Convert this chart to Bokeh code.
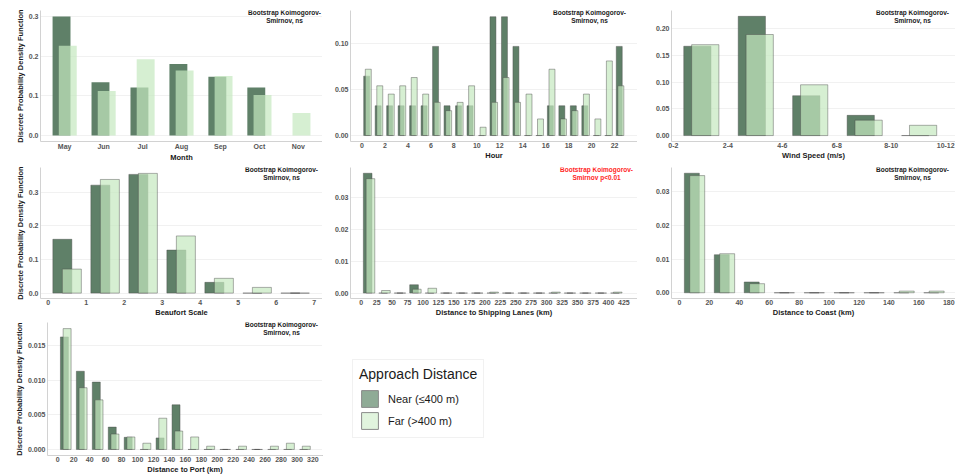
import numpy as np
from bokeh.plotting import figure
from bokeh.layouts import column, row
from bokeh.models import Range1d, FixedTicker, NumeralTickFormatter, Label, Legend, LegendItem
from bokeh.embed import file_html
from bokeh.resources import INLINE

FONT = "Liberation Sans"
NEAR_COLOR = "#5f8068"
FAR_COLOR = "#c5e8bf"
FAR_ALPHA = 0.70
EDGE = "#4a4a4a"
YLABEL = "Discrete Probability Density Function"

# ---- data: discrete probability density per bin, near (<=400 m) vs far (>400 m) ----
months = ["May", "Jun", "Jul", "Aug", "Sep", "Oct", "Nov"]
month_near = [0.300, 0.134, 0.121, 0.180, 0.148, 0.121, 0.0]
month_far = [0.226, 0.112, 0.192, 0.164, 0.150, 0.102, 0.057]

hours = list(range(23))
hour_near = [0.0645, 0.0323, 0.0323, 0.0323, 0.0323, 0.0323, 0.0968, 0.0323, 0.0323, 0.0323,
             0.0, 0.129, 0.129, 0.0968, 0.0, 0.0, 0.0323, 0.0323, 0.0323, 0.0323,
             0.0, 0.0, 0.0968]
hour_far = [0.072, 0.054, 0.045, 0.054, 0.063, 0.045, 0.036, 0.027, 0.036, 0.054,
            0.009, 0.036, 0.063, 0.036, 0.045, 0.018, 0.072, 0.018, 0.027, 0.045,
            0.018, 0.081, 0.054]

wind_bins = ["0-2", "2-4", "4-6", "6-8", "8-10", "10-12"]
wind_near = [0.167, 0.223, 0.0745, 0.0378, 0.0]
wind_far = [0.170, 0.189, 0.095, 0.0288, 0.0192]

beaufort = [0, 1, 2, 3, 4, 5, 6]
beaufort_near = [0.160, 0.321, 0.353, 0.128, 0.032, 0.0, 0.0]
beaufort_far = [0.0714, 0.338, 0.356, 0.170, 0.044, 0.017, 0.0]

lane_edges = list(range(0, 425, 25))
lane_near = [0.0375, 0.0, 0.0, 0.0026, 0.0, 0.0, 0.0, 0.0, 0.0, 0.0, 0.0, 0.0, 0.0, 0.0, 0.0, 0.0, 0.0]
lane_far = [0.0358, 0.0008, 0.0, 0.0012, 0.0015, 0.0, 0.0, 0.0, 0.0003, 0.0, 0.0, 0.0, 0.0003,
            0.0, 0.0, 0.0, 0.0003]

coast_edges = list(range(0, 180, 20))
coast_near = [0.0355, 0.0113, 0.0032, 0.0, 0.0, 0.0, 0.0, 0.0, 0.0]
coast_far = [0.0348, 0.0116, 0.0027, 0.0, 0.0, 0.0, 0.0, 0.0005, 0.0005]

port_edges = list(range(0, 320, 20))
port_near = [0.0162, 0.01126, 0.0097, 0.00322, 0.00175, 0.0, 0.00166, 0.00643,
             0.0, 0.0, 0.0, 0.0, 0.0, 0.0, 0.0, 0.0]
port_far = [0.0174, 0.00889, 0.00714, 0.00222, 0.0018, 0.0009, 0.0045, 0.00265,
            0.0018, 0.00047, 0.0, 0.00047, 0.0, 0.00047, 0.0009, 0.00047]

legend_labels = ["Near (\u2264400 m)", "Far (>400 m)"]
ks_ns = ["Bootstrap Kolmogorov-", "Smirnov, ns"]
ks_sig = ["Bootstrap Kolmogorov-", "Smirnov p<0.01"]


def panel(width, height, xr, yr, left, top, bottom, xticks, yticks, yfmt, xlabel, ylabel=None):
    p = figure(width=width, height=height, x_range=Range1d(*xr), y_range=Range1d(*yr),
               output_backend="svg", toolbar_location=None,
               min_border_left=left, min_border_right=0,
               min_border_top=top, min_border_bottom=bottom)
    p.outline_line_color = None
    p.xgrid.visible = False
    p.ygrid.grid_line_color = "#ebebeb"
    p.ygrid.grid_line_width = 0.7
    for ax in (p.xaxis[0], p.yaxis[0]):
        ax.axis_line_color = "#d2d2d2"
        ax.axis_line_width = 1
        ax.major_tick_in = 0
        ax.major_tick_out = 0
        ax.minor_tick_in = 0
        ax.minor_tick_out = 0
        ax.major_label_text_font = FONT
        ax.major_label_text_font_size = "7px"
        ax.major_label_text_font_style = "bold"
        ax.major_label_text_color = "#555555"
        ax.major_label_standoff = 2
        ax.axis_label_text_font = FONT
        ax.axis_label_text_font_size = "7.5px"
        ax.axis_label_text_font_style = "bold"
        ax.axis_label_text_color = "#1a1a1a"
        ax.axis_label_standoff = 1
    p.xaxis.major_label_standoff = 1
    p.xaxis.axis_label_standoff = 0
    p.xaxis.ticker = FixedTicker(ticks=xticks)
    p.yaxis.ticker = FixedTicker(ticks=yticks)
    p.yaxis.formatter = NumeralTickFormatter(format=yfmt)
    p.xaxis.axis_label = xlabel
    if ylabel:
        p.yaxis.axis_label = ylabel
    return p


def bars(p, x, near, far, dn, df, w, outline=True):
    x = np.asarray(x, dtype=float)
    lc = EDGE if outline else None
    p.vbar(x=x + dn, top=near, bottom=0, width=w, fill_color=NEAR_COLOR,
           line_color=lc, line_alpha=0.55, line_width=0.8)
    p.vbar(x=x + df, top=far, bottom=0, width=w, fill_color=FAR_COLOR, fill_alpha=FAR_ALPHA,
           line_color=lc, line_alpha=0.55, line_width=0.8)


def note(p, lines, right_px, color="#1a1a1a"):
    for t, dy in zip(lines, (1.5, 9.5)):
        p.add_layout(Label(x=p.x_range.end, y=p.y_range.end, x_offset=-right_px, y_offset=-dy,
                           text=t, text_align="center", text_baseline="middle",
                           text_font=FONT, text_font_size="6.5px", text_font_style="bold",
                           text_color=color))


def letter(p, ch, dx, dy):
    p.add_layout(Label(x=p.x_range.start, y=p.y_range.end, x_offset=dx, y_offset=-dy,
                       text=ch, text_align="center", text_baseline="middle",
                       text_font=FONT, text_font_size="10px", text_font_style="bold",
                       text_color="#000000"))


# a: month
pa = panel(322, 164, (0.38, 7.62), (-0.015, 0.315), 40, 10, 18,
           list(range(1, 8)), [0, 0.1, 0.2, 0.3], "0.0", "Month", YLABEL)
pa.xaxis.major_label_overrides = {i + 1: m for i, m in enumerate(months)}
bars(pa, range(1, 8), month_near, month_far, -0.08, 0.08, 0.46, outline=False)
note(pa, ks_ns, 38)
letter(pa, "a", -28, 3)

# b: hour
pb = panel(315, 164, (-1.0, 24.0), (-0.0065, 0.1358), 28, 10, 18,
           list(range(0, 23, 2)), [0, 0.05, 0.10], "0.00", "Hour")
bars(pb, hours, hour_near, hour_far, 0.41, 0.55, 0.52)
note(pb, ks_ns, 48)
letter(pb, "b", -17, 3)

# c: wind speed (2 m/s bins)
pc = panel(318, 164, (-0.07, 10.36), (-0.0111, 0.2339), 34, 10, 18,
           [0, 2, 4, 6, 8, 10], [0, 0.05, 0.10, 0.15, 0.20], "0.00", "Wind Speed (m/s)")
pc.xaxis.major_label_overrides = {2 * i: lab for i, lab in enumerate(wind_bins)}
bars(pc, [2 * i for i in range(len(wind_near))], wind_near, wind_far, 0.88, 1.17, 1.0)
note(pc, ks_ns, 43)
letter(pc, "c", -20, 3)

# d: Beaufort scale
pd_ = panel(322, 155, (-0.2, 7.22), (-0.016, 0.3735), 40, 3, 18,
            list(range(0, 8)), [0, 0.1, 0.2, 0.3], "0.0", "Beaufort Scale", YLABEL)
bars(pd_, beaufort, beaufort_near, beaufort_far, 0.375, 0.625, 0.5)
note(pd_, ks_ns, 41)
letter(pd_, "d", -23, 1.5)

# e: distance to shipping lanes (25 km bins)
pe = panel(315, 155, (-17.3, 447.0), (-0.0017, 0.0393), 28, 3, 18,
           list(range(0, 426, 25)), [0, 0.01, 0.02, 0.03], "0.00", "Distance to Shipping Lanes (km)")
bars(pe, lane_edges, lane_near, lane_far, 10.5, 15.0, 14.0)
note(pe, ks_sig, 41, color="#ff1f1f")
letter(pe, "e", -19, 2.5)

# f: distance to coast (20 km bins)
pf = panel(318, 155, (-5.3, 184.5), (-0.0017, 0.0372), 34, 3, 18,
           list(range(0, 181, 20)), [0, 0.01, 0.02, 0.03], "0.00", "Distance to Coast (km)")
bars(pf, coast_edges, coast_near, coast_far, 8.3, 11.9, 10.0)
note(pf, ks_ns, 43)
letter(pf, "f", -24, 2.5)

# g: distance to port (20 km bins)
pg = panel(322, 157, (-12.9, 332.0), (-0.00087, 0.01828), 47, 3, 20,
           list(range(0, 321, 20)), [0, 0.005, 0.010, 0.015], "0.000", "Distance to Port (km)", YLABEL)
bars(pg, port_edges, port_near, port_far, 8.3, 11.7, 10.0)
note(pg, ks_ns, 41)
letter(pg, "g", -35, 4)

# legend panel (key renderers hold a single point outside the visible range)
pl = figure(width=633, height=157, x_range=Range1d(0, 1), y_range=Range1d(0, 1),
            output_backend="svg", toolbar_location=None,
            x_axis_location=None, y_axis_location=None,
            min_border_left=0, min_border_right=0, min_border_top=0, min_border_bottom=0)
pl.outline_line_color = None
pl.grid.visible = False
rn = pl.vbar(x=[-5], top=[0], width=1, fill_color="#8fab96", line_color="#8a8a8a", line_width=1)
rf = pl.vbar(x=[-5], top=[0], width=1, fill_color="#e1f4de", line_color="#8a8a8a", line_width=1)
leg = Legend(items=[LegendItem(label=legend_labels[0], renderers=[rn]),
                    LegendItem(label=legend_labels[1], renderers=[rf])],
             location=(30, 17), title="Approach Distance",
             title_text_font=FONT, title_text_font_size="14px", title_text_font_style="normal",
             title_text_color="#1a1a1a", title_standoff=6,
             label_text_font=FONT, label_text_font_size="11px", label_text_color="#1a1a1a",
             glyph_width=21, glyph_height=21, label_height=21, label_standoff=8,
             spacing=1, padding=6, margin=0,
             border_line_color="#e3e3e3", border_line_width=1, background_fill_color="white")
pl.add_layout(leg)

layout = column(row(pa, pb, pc), row(pd_, pe, pf), row(pg, pl))

with open("out.html", "w") as fh:
    fh.write(file_html(layout, INLINE))
